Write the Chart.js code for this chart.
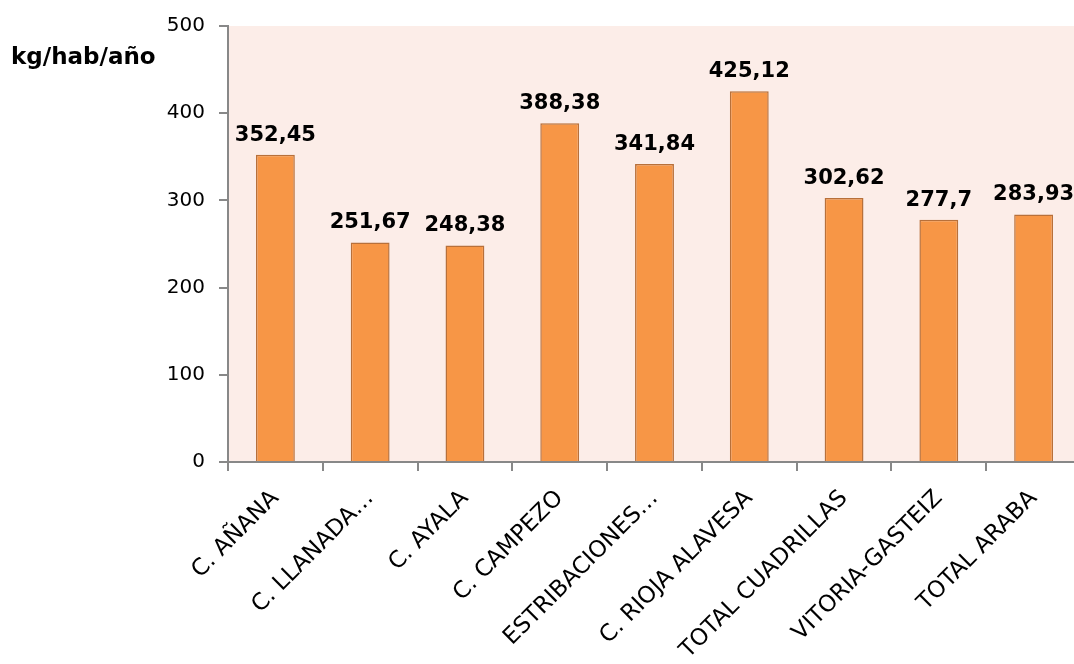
<!DOCTYPE html>
<html>
<head>
<meta charset="utf-8">
<script src="https://cdn.jsdelivr.net/npm/chart.js@4/dist/chart.umd.min.js"></script>
<style>
  html, body { margin: 0; padding: 0; background: #fff; overflow: hidden; }
  #wrap { width: 1081px; height: 664px; }
</style>
</head>
<body>
<div id="wrap"><canvas id="grafico" width="1081" height="664"></canvas></div>
<script>
// datos
const categorias = ['C. AÑANA', 'C. LLANADA…', 'C. AYALA', 'C. CAMPEZO', 'ESTRIBACIONES…',
  'C. RIOJA ALAVESA', 'TOTAL CUADRILLAS', 'VITORIA-GASTEIZ', 'TOTAL ARABA'];
const valores = [352.45, 251.67, 248.38, 388.38, 341.84, 425.12, 302.62, 277.7, 283.93];
const etiquetas = ['352,45', '251,67', '248,38', '388,38', '341,84', '425,12', '302,62', '277,7', '283,93'];
const tituloY = 'kg/hab/año';

const fuente = "'DejaVu Sans', Verdana, sans-serif";

// fondo rosado del area de trazado
const fondoPlugin = {
  id: 'fondo',
  beforeDraw(chart) {
    const { ctx, chartArea } = chart;
    ctx.save();
    ctx.fillStyle = '#fcede8';
    ctx.fillRect(chartArea.left, chartArea.top, chartArea.right - chartArea.left, chartArea.bottom - chartArea.top);
    ctx.restore();
  }
};

// valores encima de las barras y titulo del eje
const etiquetasPlugin = {
  id: 'etiquetas',
  afterDatasetsDraw(chart) {
    const { ctx } = chart;
    const meta = chart.getDatasetMeta(0);
    ctx.save();
    ctx.fillStyle = '#000';
    ctx.font = 'bold 21px ' + fuente;
    ctx.textAlign = 'center';
    ctx.textBaseline = 'bottom';
    meta.data.forEach((bar, i) => {
      ctx.fillText(etiquetas[i], bar.x, bar.y - 9);
    });
    ctx.textAlign = 'left';
    ctx.textBaseline = 'middle';
    ctx.font = 'bold 23px ' + fuente;
    ctx.fillText(tituloY, 11, 58);
    ctx.restore();
  }
};

const ctx = document.getElementById('grafico').getContext('2d');
const grafico = new Chart(ctx, {
  type: 'bar',
  data: {
    labels: categorias,
    datasets: [{
      data: valores,
      backgroundColor: '#f79646',
      borderColor: '#b8703a',
      borderWidth: 1.5,
      barPercentage: 0.41,
      categoryPercentage: 1
    }]
  },
  options: {
    responsive: false,
    animation: false,
    layout: { padding: { top: 25, left: 0, right: 0, bottom: 0 } },
    plugins: {
      legend: { display: false },
      tooltip: { enabled: false }
    },
    scales: {
      x: {
        afterFit(scale) { scale.height = 202; },
        border: { display: true, color: '#888', width: 2 },
        grid: { display: true, drawOnChartArea: false, drawTicks: true, tickLength: 9, color: '#888', lineWidth: 2 },
        ticks: {
          color: '#000',
          font: { family: fuente, size: 23 },
          maxRotation: 45,
          minRotation: 45,
          autoSkip: false,
          padding: 14
        }
      },
      y: {
        min: 0,
        max: 500,
        afterFit(scale) { scale.width = 228; },
        border: { display: true, color: '#888', width: 2 },
        grid: { display: true, drawOnChartArea: false, drawTicks: true, tickLength: 9, color: '#888', lineWidth: 2 },
        ticks: {
          stepSize: 100,
          color: '#000',
          font: { family: fuente, size: 20 },
          padding: 14
        }
      }
    }
  },
  plugins: [fondoPlugin, etiquetasPlugin]
});
</script>
</body>
</html>
